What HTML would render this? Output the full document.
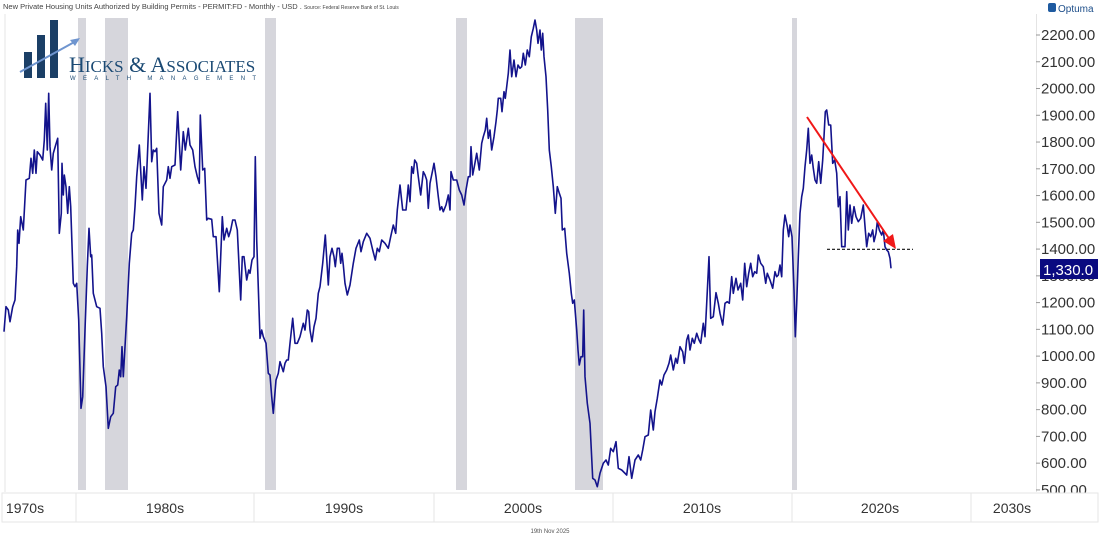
<!DOCTYPE html>
<html><head><meta charset="utf-8">
<style>
body{margin:0;background:#fff;width:1100px;height:541px;overflow:hidden;font-family:"Liberation Sans",sans-serif;}
</style></head>
<body>
<svg id="s" width="1100" height="541" viewBox="0 0 1100 541" xmlns="http://www.w3.org/2000/svg">
<rect width="1100" height="541" fill="#fff"/>
<g fill="#d6d6dc">
<rect x="78" y="18" width="8" height="472"/>
<rect x="105" y="18" width="23" height="472"/>
<rect x="265" y="18" width="11" height="472"/>
<rect x="456" y="18" width="11" height="472"/>
<rect x="575" y="18" width="28" height="472"/>
<rect x="792" y="18" width="5" height="472"/>
</g>
<line x1="5" y1="14" x2="5" y2="492" stroke="#e4e4e4"/>
<line x1="1036.5" y1="14" x2="1036.5" y2="492" stroke="#e4e4e4"/>
<g id="ticks" font-size="15" fill="#333" font-family="'Liberation Sans',sans-serif"></g>
<polyline id="line" fill="none" stroke="#13138c" stroke-width="1.6" stroke-linejoin="round"/>
<line x1="827" y1="249.3" x2="913" y2="249.3" stroke="#111" stroke-width="1.2" stroke-dasharray="3,2"/>
<line x1="807" y1="117" x2="890" y2="240" stroke="#f01818" stroke-width="2"/>
<polygon points="896,249 883,241 893,234" fill="#f01818"/>
<rect x="1040" y="259" width="58" height="20" fill="#0a0a80"/>
<text x="1043" y="275" font-size="15" fill="#fff">1,330.0</text>
<text x="3" y="9" font-size="7.5" fill="#444">New Private Housing Units Authorized by Building Permits - PERMIT:FD - Monthly - USD . <tspan font-size="5">Source: Federal Reserve Bank of St. Louis</tspan></text>
<rect x="1048" y="3" width="8" height="9" rx="2" fill="#1e5aa0"/>
<text x="1058" y="12" font-size="10" fill="#1e4f8a">Optuma</text>
<g fill="#1b3f66">
<rect x="24" y="52" width="8" height="26"/>
<rect x="37" y="35" width="8" height="43"/>
<rect x="50" y="20" width="8" height="58"/>
</g>
<line x1="20" y1="72" x2="78" y2="40" stroke="#6f95cf" stroke-width="2"/>
<polygon points="80,38 70,40 75,46" fill="#6f95cf"/>
<text x="69" y="72" font-family="'Liberation Serif',serif" font-size="22" fill="#1b4a74">H<tspan font-size="17">ICKS</tspan> &amp; A<tspan font-size="17">SSOCIATES</tspan></text>
<text x="70" y="80" font-size="6" fill="#1b4a74" letter-spacing="7.3">WEALTH MANAGEMENT</text>
<rect x="2" y="493" width="1096" height="29" fill="#fff" stroke="#e6e6e6"/>
<g stroke="#e6e6e6">
<line x1="76" y1="493" x2="76" y2="522"/><line x1="254" y1="493" x2="254" y2="522"/>
<line x1="434" y1="493" x2="434" y2="522"/><line x1="613" y1="493" x2="613" y2="522"/>
<line x1="792" y1="493" x2="792" y2="522"/><line x1="971" y1="493" x2="971" y2="522"/>
</g>
<g font-size="14" fill="#333" text-anchor="middle">
<text x="25" y="513">1970s</text><text x="165" y="513">1980s</text><text x="344" y="513">1990s</text>
<text x="523" y="513">2000s</text><text x="702" y="513">2010s</text><text x="880" y="513">2020s</text><text x="1012" y="513">2030s</text>
</g>
<text x="550" y="533" font-size="6" fill="#555" text-anchor="middle">19th Nov 2025</text>
</svg>
<script>
var z4=[[12,755],[18,680],[25,690],[30,725],[38,680],[45,660],[50,560],[53,450],[57,490],[62,410],[70,450],[78,300],[88,295],[93,235],[98,280],[103,210],[108,280],[112,215],[120,225],[128,240],[133,180],[137,70],[142,210],[146,40],[150,200],[155,270],[160,220],[167,195],[173,175],[178,460],[184,400],[186,250],[190,345],[193,285],[198,320],[203,400],[208,320],[212,380],[220,610],[225,620],[230,610],[236,720],[243,985],[248,950],[255,750],[262,560],[267,445],[272,530],[275,525],[280,640],[290,680],[300,685],[305,760],[310,860],[318,920],[325,1045],[332,1010],[340,1000],[347,920],[353,915],[358,870],[362,890],[366,800],[370,890],[380,710],[388,550],[395,460],[400,450],[405,380],[410,290],[418,195],[427,360],[432,260],[438,325],[442,235],[450,40],[455,245],[460,210],[465,215],[470,205],[477,400],[485,435],[490,320],[500,300],[505,260],[510,295],[515,260],[525,255],[533,95],[542,270],[550,155],[556,210],[565,145],[570,195],[578,210],[585,260],[592,290],[598,310],[601,105],[608,270],[614,265],[620,420],[624,415],[635,418],[640,470],[648,470],[658,635],[667,410],[672,480],[680,445],[686,470],[692,450],[698,420],[705,420],[712,450],[722,660],[727,530],[732,530],[740,600],[746,570],[750,580],[756,540],[762,530],[766,230],[770,480],[780,775],[785,750],[790,770],[798,790],[805,880],[810,885],[815,950],[820,1000],[828,900],[835,880],[840,845],[845,860],[850,875],[855,850],[860,840],[865,840],[870,790],[878,715],[885,790],[892,790],[900,770]];
var z5=[[160,940],[165,960],[172,900],[176,905],[180,960],[186,995],[192,950],[198,925],[205,850],[210,830],[218,760],[226,675],[235,825],[240,740],[246,715],[252,740],[256,770],[262,715],[268,715],[272,760],[276,730],[280,765],[285,820],[292,855],[300,825],[310,760],[318,715],[322,705],[328,690],[333,725],[340,695],[350,670],[360,685],[368,720],[376,750],[382,715],[388,725],[395,690],[405,700],[415,715],[422,680],[430,645],[437,670],[442,600],[450,525],[458,600],[468,600],[472,560],[475,525],[480,575],[485,470],[490,490],[494,450],[500,460],[505,500],[512,555],[520,485],[525,495],[530,510],[535,595],[540,520],[548,480],[552,460],[558,500],[565,560],[570,600],[575,590],[580,605],[588,585],[595,555],[600,600],[603,485],[610,510],[620,510],[628,540],[635,555],[642,585],[648,540],[655,500],[660,500],[663,410],[668,495],[673,470],[680,430],[688,480],[695,400],[700,380],[706,360],[710,325],[715,385],[720,360],[725,420],[732,380],[738,335],[742,300],[745,265],[752,265],[756,305],[762,245],[766,265],[770,230],[775,190],[780,120],[785,200],[792,150],[798,200],[804,165],[810,175],[815,170],[820,130],[826,165],[832,120],[838,140],[844,80],[850,55],[855,30],[860,60],[864,100],[870,60],[874,120],[878,70],[882,140],[888,200],[893,300],[898,420],[904,470],[910,530],[916,610],[922,530],[928,550],[933,565],[937,660],[944,655],[950,730],[958,790],[964,850],[968,880],[973,870],[980,960],[984,1020],[988,1065],[993,1040],[998,1040],[1001,900],[1005,1100],[1012,1180]];
var z6=[[0,1000],[8,1165],[15,1170],[22,1190],[30,1150],[40,1120],[48,1110],[55,1125],[62,1075],[70,1085],[78,1055],[85,1135],[95,1140],[110,1155],[117,1100],[125,1165],[135,1110],[145,1095],[152,1110],[158,1080],[165,1040],[175,1035],[182,960],[190,1020],[195,965],[202,925],[210,870],[215,885],[222,855],[230,840],[237,820],[242,795],[250,840],[257,805],[262,820],[270,770],[278,785],[283,820],[290,750],[295,735],[300,780],[307,745],[313,760],[320,730],[327,750],[332,760],[340,700],[345,740],[350,640],[357,500],[362,685],[370,680],[378,608],[385,640],[390,670],[398,705],[405,640],[412,635],[418,640],[425,560],[430,610],[438,565],[444,600],[452,580],[458,630],[464,520],[470,590],[476,550],[482,520],[488,560],[494,545],[500,550],[505,495],[512,520],[520,530],[527,580],[532,550],[540,570],[548,595],[555,545],[560,560],[565,555],[570,525],[575,560],[580,420],[585,375],[592,410],[596,440],[600,405],[606,440],[612,600],[616,740],[620,640],[625,500],[630,370],[635,320],[640,295],[645,230],[650,180],[655,115],[660,220],[665,195],[670,235],[675,270],[680,280],[686,215],[692,280],[698,210],[702,140],[706,65],[710,60],[716,105],[722,105],[728,220],[734,210],[740,250],[745,350],[750,320],[755,470],[765,470],[770,305],[775,420],[780,345],[785,400],[792,350],[798,380],[805,395],[812,385],[820,345],[826,420],[830,470],[836,430],[842,440],[848,420],[852,455],[858,430],[862,395],[868,420],[875,435],[880,420],[885,470],[890,480],[895,485],[900,505],[903,535]];
var p=[];
z4.forEach(function(a){p.push([a[0]/3,a[1]/3+80]);});
z5.forEach(function(a){p.push([250+a[0]/3,10+a[1]/3]);});
z6.forEach(function(a){p.push([590+a[0]/3,90+a[1]/3]);});
document.getElementById('line').setAttribute('points',p.map(function(a){return a[0].toFixed(1)+','+a[1].toFixed(1);}).join(' '));
var g=document.getElementById('ticks'),ns='http://www.w3.org/2000/svg';
for(var v=2200;v>=500;v-=100){
 var y=35+(2200-v)*0.2676;
 var l=document.createElementNS(ns,'line');l.setAttribute('x1',1036);l.setAttribute('x2',1040);l.setAttribute('y1',y);l.setAttribute('y2',y);l.setAttribute('stroke','#999');g.appendChild(l);
 var t=document.createElementNS(ns,'text');t.setAttribute('x',1041);t.setAttribute('y',y+5);t.textContent=v.toFixed(2);g.appendChild(t);
}
</script>
</body></html>
